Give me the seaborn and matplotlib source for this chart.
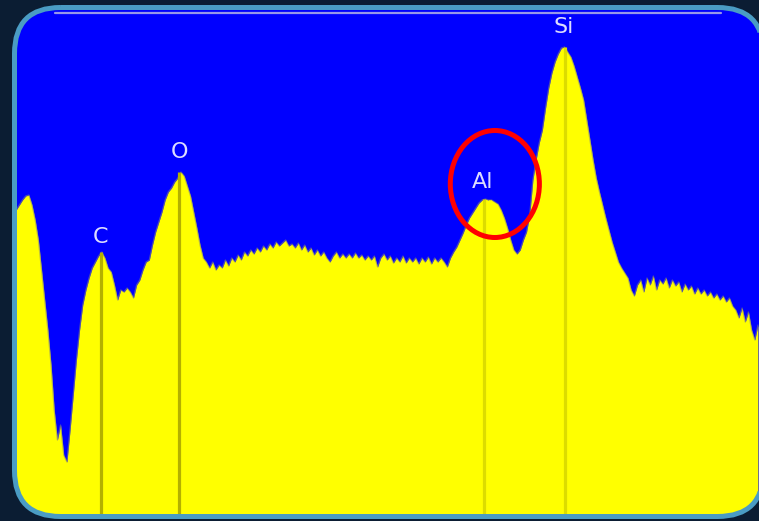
import numpy as np
import pandas as pd
import seaborn as sns
import matplotlib.pyplot as plt
from matplotlib.patches import FancyBboxPatch, Ellipse, Polygon

# EDS spectrum, 10 eV channels starting at 0 keV
counts = [
    604, 614, 624, 634, 642, 644, 624, 594, 554, 494,
    434, 374, 304, 214, 154, 184, 124, 110, 174, 244,
    314, 374, 424, 454, 478, 498, 510, 522, 530, 518,
    498, 490, 464, 434, 454, 450, 458, 450, 438, 464,
    474, 494, 510, 514, 544, 570, 590, 610, 634, 650,
    658, 670, 678, 690, 682, 662, 642, 610, 578, 544,
    518, 510, 498, 510, 494, 504, 498, 514, 502, 518,
    510, 524, 514, 530, 522, 534, 526, 538, 530, 542,
    534, 546, 538, 550, 542, 548, 554, 542, 546, 538,
    548, 534, 544, 530, 538, 524, 534, 522, 530, 518,
    510, 522, 530, 518, 526, 518, 526, 518, 528, 518,
    524, 514, 522, 514, 522, 500, 518, 526, 514, 522,
    508, 518, 510, 522, 508, 518, 510, 518, 506, 518,
    510, 520, 506, 518, 510, 518, 510, 500, 518, 530,
    540, 554, 568, 584, 598, 608, 618, 628, 634, 636,
    634, 634, 630, 626, 614, 598, 578, 554, 534, 526,
    534, 554, 570, 604, 674, 714, 748, 774, 818, 858,
    888, 910, 926, 938, 940, 930, 920, 902, 880, 858,
    834, 794, 754, 714, 678, 650, 624, 598, 574, 550,
    530, 510, 498, 488, 478, 454, 442, 464, 474, 450,
    478, 464, 482, 454, 474, 466, 478, 458, 474, 462,
    470, 450, 466, 454, 462, 446, 458, 446, 454, 442,
    450, 438, 446, 434, 442, 430, 438, 422, 414, 398,
    418, 390, 410, 374, 354, 384,
]
energy = np.round(np.arange(len(counts)) * 0.01, 2)

elements = ["C", "O", "Al", "Si"]
element_kev = [0.277, 0.525, 1.486, 1.740]
element_top = [530, 690, 636, 940]
label_kev = [0.277, 0.525, 1.480, 1.738]
label_counts = [560, 730, 670, 980]
highlight = "Al"

df = pd.DataFrame({"energy": energy, "counts": counts})

sns.set_theme(style="white")
plt.rcParams["font.family"] = ["Liberation Sans Narrow", "DejaVu Sans"]

W, H = 759, 521
fig = plt.figure(figsize=(W / 100, H / 100), dpi=100, facecolor="#0b1d33")

# frame layer in pixel units (y down)
bg = fig.add_axes([0, 0, 1, 1], zorder=0)
bg.set_xlim(0, W)
bg.set_ylim(H, 0)
bg.set_axis_off()
frame = dict(boxstyle="round,pad=0,rounding_size=46")
panel = FancyBboxPatch((14.5, 7.5), 749, 509, facecolor="#0000ff",
                       edgecolor="none", **frame)
bg.add_patch(panel)

ax = fig.add_axes([13 / W, 4 / H, 760.8 / W, 506 / H], zorder=1)
ax.patch.set_alpha(0)
ax.set_xlim(0, 2.40)
ax.set_ylim(0, 1012)
ax.set_axis_off()

fill = ax.fill_between(df["energy"], df["counts"], 0,
                       color="#ffff00", lw=0, zorder=2)
fill.set_clip_path(panel)
sns.lineplot(data=df, x="energy", y="counts", ax=ax,
             color="#8a8a70", lw=0.9, alpha=0.55, zorder=2.5)

line_cols = ["#b4b000", "#b4b000", "#dcdc00", "#dcdc00"]
vl = ax.vlines(element_kev, 0, element_top, colors=line_cols, lw=2.3, zorder=3)
vl.set_clip_path(panel)

for name, ex, ey in zip(elements, label_kev, label_counts):
    ax.text(ex, ey, name, ha="center", va="center", color="#dcdcff",
            fontsize=16, zorder=5)

ax.axhline(1008, xmin=0.055, xmax=0.93, color="#9898e8", lw=1.6, zorder=4)

i = elements.index(highlight)
ax.add_patch(Ellipse((label_kev[i] + 0.04, 666), 0.281, 214, fill=False,
                     edgecolor="#ff0000", lw=3.6, zorder=6))

# border drawn as a polygon so the part past the right edge clips cleanly
fg = fig.add_axes([0, 0, 1, 1], zorder=2)
fg.set_xlim(0, W)
fg.set_ylim(H, 0)
fg.set_axis_off()
fg.patch.set_alpha(0)
ring = panel.get_path().to_polygons(closed_only=True)[0]
fg.add_patch(Polygon(ring, closed=True, fill=False,
                     edgecolor="#4a9cc4", lw=3.6))

fig.savefig("out.png", dpi=100, facecolor=fig.get_facecolor())
